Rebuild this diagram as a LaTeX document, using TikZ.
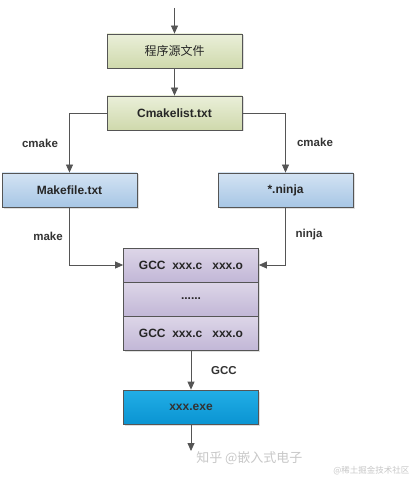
\documentclass[tikz,border=0pt]{standalone}
\usepackage{fontspec}
\setmainfont{Liberation Sans}
\newfontfamily\cjk{Noto Sans CJK SC}
\usetikzlibrary{arrows.meta,shadows,positioning}
\definecolor{linegray}{HTML}{555555}
\definecolor{greenA}{HTML}{EAEFD9}
\definecolor{greenB}{HTML}{CFD9AC}
\definecolor{blueA}{HTML}{D3E3F3}
\definecolor{blueB}{HTML}{A7C6E5}
\definecolor{purpA}{HTML}{DDD6E8}
\definecolor{purpB}{HTML}{C2B7D7}
\definecolor{cyanA}{HTML}{22AEE6}
\definecolor{cyanB}{HTML}{0A94D2}
\definecolor{wmgray}{HTML}{C8C8C8}
\begin{document}
\begin{tikzpicture}[x=1pt,y=-1pt,
  box/.style={draw=linegray, line width=0.8pt, minimum width=135pt, minimum height=34pt,
    inner sep=0pt, font=\bfseries\fontsize{12}{14}\selectfont, text=black!85,
    drop shadow={shadow xshift=1.5pt, shadow yshift=-1.5pt, opacity=0.25}},
  greenbox/.style={box, top color=greenA, bottom color=greenB},
  bluebox/.style={box, top color=blueA, bottom color=blueB},
  purpbox/.style={box, top color=purpA, bottom color=purpB},
  cyanbox/.style={box, top color=cyanA, bottom color=cyanB, text=black!80},
  conn/.style={draw=linegray, line width=0.8pt},
  arr/.style={conn, -{Triangle[length=8pt,width=7pt]}},
  lab/.style={font=\bfseries\fontsize{11.5}{13}\selectfont, text=black!80}
]
\useasboundingbox (0,0) rectangle (416,478);
\fill[white] (0,0) rectangle (416,478);

\node[greenbox] (src) at (174.5,51) {\cjk\mdseries 程序源文件};
\node[greenbox] (cml) at (174.5,113) {Cmakelist.txt};
\node[bluebox] (mk) at (69.5,190) {Makefile.txt};
\node[bluebox] (nj) at (285.5,190) {*.ninja};
\node[purpbox] (g1) at (191,265) {GCC\ \ xxx.c\ \ \ xxx.o};
\node[purpbox] (g2) at (191,299) {......};
\node[purpbox] (g3) at (191,333) {GCC\ \ xxx.c\ \ \ xxx.o};
\node[cyanbox] (exe) at (191,407) {xxx.exe};

\coordinate (in) at (174.5,8);
\coordinate (out) at (191,451);

\draw[arr] (in) -- (src.north);
\draw[arr] (src.south) -- (cml.north);
\draw[arr] (cml.west) -| (mk.north);
\draw[arr] (cml.east) -| (nj.north);
\draw[arr] (mk.south) |- (g1.west);
\draw[arr] (nj.south) |- (g1.east);
\draw[arr] (g3.south) -- (exe.north);
\draw[arr] (exe.south) -- (out);

\node[lab] (l1) at (40,143) {cmake};
\node[lab] (l2) at (315,142) {cmake};
\node[lab] (l3) at (48,236) {make};
\node[lab] (l4) at (309,235) {ninja};
\node[lab] (l5) at (224,371) {GCC};

\node[text=wmgray, font=\cjk\fontsize{13}{15}\selectfont, anchor=east] (wm1) at (306,458) {知乎 @嵌入式电子};
\node[text=wmgray, font=\cjk\fontsize{8.5}{10}\selectfont, anchor=east] (wm2) at (413,471) {@稀土掘金技术社区};
\end{tikzpicture}
\end{document}
